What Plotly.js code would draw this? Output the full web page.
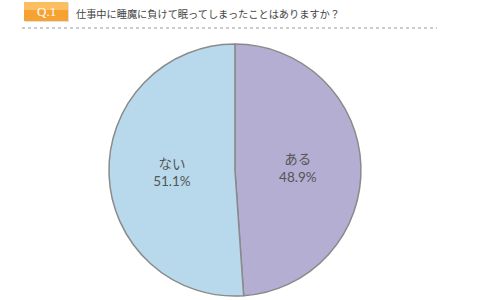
<!DOCTYPE html>
<html><head><meta charset="utf-8">
<script src="https://cdn.plot.ly/plotly-3.0.1.min.js"></script>
<style>html,body{margin:0;padding:0;background:#fff}</style>
</head><body><div id="chart" style="width:480px;height:300px"></div>
<script>
const labels = ["ある", "ない"];
const values = [48.9, 51.1];
const colors = ["#b4aed2", "#b8d9ec"];
const titleText = "仕事中に睡魔に負けて眠ってしまったことはありますか？";
const badgeText = "Q.1";

const trace = {
  type: "pie",
  labels: labels,
  values: values,
  sort: false,
  direction: "clockwise",
  rotation: 0,
  marker: {colors: colors, line: {color: "#8a8a8a", width: 1.5}},
  texttemplate: "%{label}<br>%{value:.1f}%",
  textposition: "inside",
  insidetextorientation: "horizontal",
  textfont: {family: "Lato, 'Noto Sans CJK JP'", size: 13.5, color: "#555"},
  hoverinfo: "none",
  showlegend: false,
  domain: {x: [0.227, 0.752], y: [0.013, 0.853]}
};

const layout = {
  width: 480, height: 300,
  margin: {l: 0, r: 0, t: 0, b: 0},
  paper_bgcolor: "#fff",
  title: {
    text: titleText,
    font: {family: "Noto Sans CJK JP", size: 10.2, color: "#444"},
    x: 76/480, xanchor: "left", xref: "paper",
    y: 1 - 14/300, yanchor: "middle", yref: "container"
  },
  shapes: [
    {type: "rect", xref: "paper", yref: "paper", x0: 25/480, x1: 69/480, y0: 1-22/300, y1: 1-3/300,
     fillcolor: "#e0e0e0", line: {width: 0}},
    {type: "rect", xref: "paper", yref: "paper", x0: 24/480, x1: 68/480, y0: 1-21/300, y1: 1-2/300,
     fillcolor: "#f6a233", line: {width: 0}},
    {type: "rect", xref: "paper", yref: "paper", x0: 24/480, x1: 68/480, y0: 1-10/300, y1: 1-2/300,
     fillcolor: "#fbbf62", line: {width: 0}},
    {type: "line", xref: "paper", yref: "paper", x0: 22/480, x1: 437/480, y0: 1-28/300, y1: 1-28/300,
     line: {color: "#999", width: 1, dash: "dot"}}
  ],
  annotations: [
    {text: badgeText, xref: "paper", yref: "paper", x: 46/480, y: 1-11.5/300, xanchor: "center", yanchor: "middle",
     showarrow: false, font: {family: "Liberation Serif", size: 13, color: "#fff"}}
  ]
};

Plotly.newPlot("chart", [trace], layout, {staticPlot: true, displayModeBar: false});
</script></body></html>
